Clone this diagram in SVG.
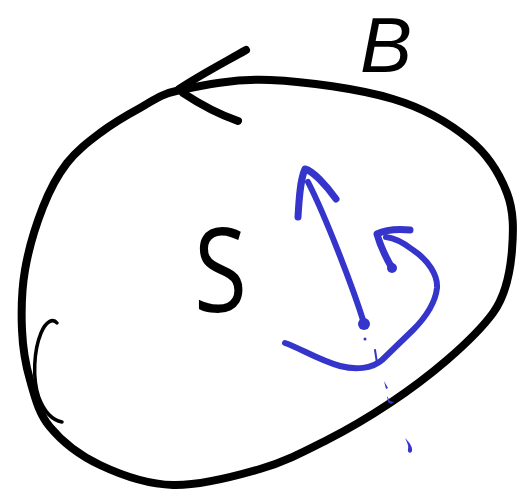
<svg xmlns="http://www.w3.org/2000/svg" width="519" height="492" viewBox="0 0 519 492">
<style>
.ink{fill:none;stroke:#000;stroke-linecap:round;stroke-linejoin:round}
.blue{fill:none;stroke:#3535CC;stroke-linecap:round;stroke-linejoin:round}
.bluefill{fill:#3535CC;stroke:none}
.lbl{fill:#000}
</style>
<rect width="519" height="492" fill="#fff"/>
<g id="boundary">
<path class="ink" stroke-width="8" d="M180,90 C201.7,85.3 234.5,78.5 270,80 C305.5,81.5 359.7,89 393,99 C426.3,109 451,124.3 470,140 C489,155.7 500,174.7 507,193 C514,211.3 513.5,230.5 512,250 C510.5,269.5 506,295 493,313 C482,328 465,344.5 447,360 C429,375.5 410,389.7 390,403 C370,416.3 348.7,429 327,440 C305.3,451 285.7,461.5 260,469 C234.3,476.5 199.7,485.7 173,485 C146.3,484.3 120.5,474.7 100,465 C79.5,455.3 61.7,441.2 50,427 C38.3,412.8 34.7,396.2 30,380 C25.3,363.8 22.8,348.3 22,330 C21.2,311.7 21.5,290.5 25,270 C28.5,249.5 36,224.8 43,207 C50,189.2 57.5,175.3 67,163 C76.5,150.7 87.8,142.2 100,133 C112.2,123.8 126.7,115.2 140,108 C153.3,100.8 158.3,94.7 180,90 Z"/>
</g>
<g id="connectors">
<g id="orientation-arrow">
<path class="ink" stroke-width="8" d="M246,50 C225,62 200,75 179,89"/>
<path class="ink" stroke-width="8" d="M183,93 C198,103 218,114 238,121"/>
</g>
<g id="left-mark">
<path class="ink" stroke-width="3.5" d="M57,323 C53,318 46,321 41,333 C34,350 32,378 39,398 C44,411 52,420 62,422"/>
</g>
<g id="normal-arrow">
<circle class="bluefill" cx="364" cy="324" r="6"/>
<path class="blue" stroke-width="6" d="M364,323 C352,285 325,215 308,182"/>
<path class="blue" stroke-width="7" d="M298,217 C299,200 300,180 305,169 C313,171 326,185 336,199"/>
</g>
<g id="rotation-arrow">
<path class="blue" stroke-width="6" d="M285,343 C300,348 318,360 340,366 C355,370 372,369 382,360 L413,330 C425,318 435,305 437,288 C438,275 428,260 413,250 C404,243 395,238 386,237"/>
<path class="blue" stroke-width="7" d="M410,230 C398,229 385,230 377,234 C380,245 385,256 392,268"/>
<circle class="bluefill" cx="392" cy="268" r="5"/>
<path class="blue" stroke-width="2" d="M375,350 L377,363"/>
<circle class="bluefill" cx="365" cy="339" r="1.5"/>
<path class="bluefill" d="M384,381 L388,388 L386,389 Z"/>
<path class="bluefill" d="M387,396 L390,401 L394,402 L391,404 L388,402 Z"/>
<path class="bluefill" d="M405,438 C409,442 413,447 412,451 C411,454 407,453 408,449 C409,446 407,442 405,438 Z"/>
</g>
</g>
<g id="label-S">
<text class="lbl" x="0" y="0" font-family="'Open Sans','Liberation Sans',sans-serif" font-size="118" font-weight="400" transform="translate(194,312) scale(0.82,1)">S</text>
</g>
<g id="label-B">
<text class="lbl" x="360" y="72" font-family="'Liberation Sans',Arial,sans-serif" font-size="78" font-style="italic">B</text>
</g>
</svg>
